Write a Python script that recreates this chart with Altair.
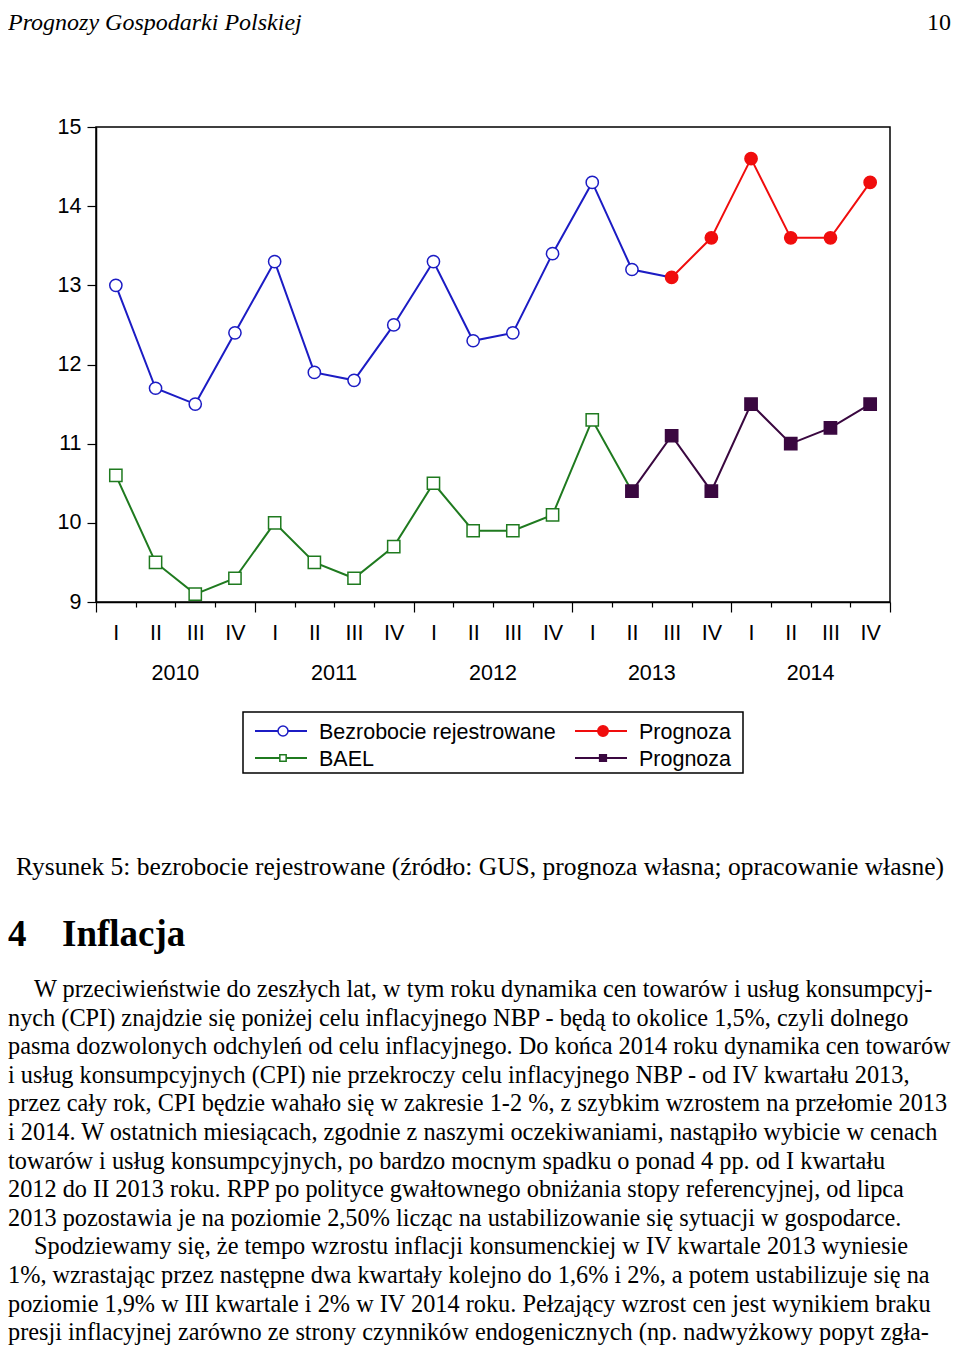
import json
import altair as alt
import pandas as pd

# ---------------- data ----------------
QUARTER_LABELS = ["I", "II", "III", "IV"]
YEARS = ["2010", "2011", "2012", "2013", "2014"]
Y_TICKS = [9, 10, 11, 12, 13, 14, 15]

BEZROBOCIE = [13.0, 11.7, 11.5, 12.4, 13.3, 11.9, 11.8, 12.5, 13.3, 12.3, 12.4, 13.4, 14.3, 13.2]
BEZROBOCIE_PROGNOZA = [13.1, 13.6, 14.6, 13.6, 13.6, 14.3]
BAEL = [10.6, 9.5, 9.1, 9.3, 10.0, 9.5, 9.3, 9.7, 10.5, 9.9, 9.9, 10.1, 11.3]
BAEL_PROGNOZA = [10.4, 11.1, 10.4, 11.5, 11.0, 11.2, 11.5]

SERIES = ["bez", "bez_prog", "bael", "bael_prog"]
LEGEND_LABELS = ["Bezrobocie rejestrowane", "Prognoza", "BAEL", "Prognoza"]
COLORS = ["#1c1cc4", "#f00d0d", "#1f7a1f", "#3a0840"]
FILLS = ["white", "#f00d0d", "white", "#3a0840"]
SHAPES = ["circle", "circle", "square", "square"]

HEADER = "Prognozy Gospodarki Polskiej"
PAGE_NO = "10"
CAPTION = "Rysunek 5: bezrobocie rejestrowane (źródło: GUS, prognoza własna; opracowanie własne)"
SECTION_NO = "4"
SECTION_TITLE = "Inflacja"
PARAGRAPH_1 = [
    "W przeciwieństwie do zeszłych lat, w tym roku dynamika cen towarów i usług konsumpcyj-",
    "nych (CPI) znajdzie się poniżej celu inflacyjnego NBP - będą to okolice 1,5%, czyli dolnego",
    "pasma dozwolonych odchyleń od celu inflacyjnego. Do końca 2014 roku dynamika cen towarów",
    "i usług konsumpcyjnych (CPI) nie przekroczy celu inflacyjnego NBP - od IV kwartału 2013,",
    "przez cały rok, CPI będzie wahało się w zakresie 1-2 %, z szybkim wzrostem na przełomie 2013",
    "i 2014. W ostatnich miesiącach, zgodnie z naszymi oczekiwaniami, nastąpiło wybicie w cenach",
    "towarów i usług konsumpcyjnych, po bardzo mocnym spadku o ponad 4 pp. od I kwartału",
    "2012 do II 2013 roku. RPP po polityce gwałtownego obniżania stopy referencyjnej, od lipca",
    "2013 pozostawia je na poziomie 2,50% licząc na ustabilizowanie się sytuacji w gospodarce.",
]
PARAGRAPH_2 = [
    "Spodziewamy się, że tempo wzrostu inflacji konsumenckiej w IV kwartale 2013 wyniesie",
    "1%, wzrastając przez następne dwa kwartały kolejno do 1,6% i 2%, a potem ustabilizuje się na",
    "poziomie 1,9% w III kwartale i 2% w IV 2014 roku. Pełzający wzrost cen jest wynikiem braku",
    "presji inflacyjnej zarówno ze strony czynników endogenicznych (np. nadwyżkowy popyt zgła-",
]


def rows(key, values, start):
    return [{"series": key, "q": start + i, "value": v} for i, v in enumerate(values)]


n_bez, n_bael = len(BEZROBOCIE), len(BAEL)
points_df = pd.DataFrame(
    rows("bez", BEZROBOCIE, 0) + rows("bez_prog", BEZROBOCIE_PROGNOZA, n_bez)
    + rows("bael", BAEL, 0) + rows("bael_prog", BAEL_PROGNOZA, n_bael)
)
lines_df = pd.DataFrame(
    rows("bez", BEZROBOCIE + BEZROBOCIE_PROGNOZA[:1], 0) + rows("bez_prog", BEZROBOCIE_PROGNOZA, n_bez)
    + rows("bael", BAEL + BAEL_PROGNOZA[:1], 0) + rows("bael_prog", BAEL_PROGNOZA, n_bael)
)
years_df = pd.DataFrame({"year": YEARS, "k": list(range(len(YEARS)))})
n_q = len(YEARS) * len(QUARTER_LABELS)

# ---------------- layout ----------------
W, H = 794, 475            # plot area
LEFT, TOP = 96, 127        # plot-area origin on the page
CANVAS_W, CANVAS_H = 944, 1340
PAD = {"left": LEFT - 8, "top": TOP - 8,
       "right": CANVAS_W - (LEFT - 8) - W, "bottom": CANVAS_H - (TOP - 8) - H}
SANS = "Liberation Sans"
SERIF = "Liberation Serif"
BODY = 24.3
CHART_FS = 21.5


def px(x):
    return x - LEFT


def py(y):
    return y - TOP


x_scale = alt.Scale(domain=[0, n_q], nice=False, zero=False)
y_scale = alt.Scale(domain=[min(Y_TICKS), max(Y_TICKS)], nice=False, zero=False)
color_scale = alt.Scale(domain=SERIES, range=COLORS)

year_start = "datum.value % 4 == 0"
x_axis = alt.Axis(
    values=list(range(n_q + 1)), title=None, grid=False,
    labelExpr="datum.value < %d ? %s[datum.value %% 4] : ''" % (n_q, json.dumps(QUARTER_LABELS)),
    labelOffset=W / (2 * n_q), labelFontSize=CHART_FS, labelFont=SANS, labelColor="black",
    labelFlush=False, labelOverlap=False, labelBound=False, labelAngle=0,
    labelPadding={"condition": {"test": year_start, "value": 10}, "value": 15},
    tickSize={"condition": {"test": year_start, "value": 10}, "value": 5},
    tickColor="black", tickWidth=1.2, domainColor="black", domainWidth=1.5,
)
y_axis = alt.Axis(
    values=Y_TICKS, title=None, grid=False, tickSize=9, labelPadding=6,
    labelFontSize=CHART_FS, labelFont=SANS, labelColor="black",
    tickColor="black", tickWidth=1.2, domainColor="black", domainWidth=1.5,
)

lines = alt.Chart(lines_df).transform_calculate(xq="datum.q + 0.5").mark_line(strokeWidth=2).encode(
    x=alt.X("xq:Q", scale=x_scale, axis=x_axis),
    y=alt.Y("value:Q", scale=y_scale, axis=y_axis),
    color=alt.Color("series:N", scale=color_scale, legend=None),
    detail="series:N",
)

pts = alt.Chart(points_df).transform_calculate(xq="datum.q + 0.5").mark_point(
    strokeWidth=1.5, opacity=1, filled=False
).encode(
    x=alt.X("xq:Q", scale=x_scale, axis=x_axis),
    y=alt.Y("value:Q", scale=y_scale, axis=y_axis),
    stroke=alt.Stroke("series:N", scale=color_scale, legend=None),
    fill=alt.Fill("series:N", scale=alt.Scale(domain=SERIES, range=FILLS), legend=None),
    shape=alt.Shape("series:N", scale=alt.Scale(domain=SERIES, range=SHAPES), legend=None),
    size=alt.Size("series:N", scale=alt.Scale(domain=SERIES, range=[150, 150, 60, 72]), legend=None),
)

years = alt.Chart(years_df).transform_calculate(xq="datum.k * 4 + 2").mark_text(
    fontSize=CHART_FS, font=SANS, color="black", baseline="alphabetic", align="center"
).encode(
    x=alt.X("xq:Q", scale=x_scale, axis=x_axis),
    y=alt.value(py(680)),
    text="year:N",
)

dummy = pd.DataFrame({"k": [0]})


def text_layer(txt, x, y, size, font=SERIF, align="left", style="normal", weight="normal"):
    return alt.Chart(dummy).mark_text(
        text=txt, align=align, baseline="alphabetic", fontSize=size, font=font,
        fontStyle=style, fontWeight=weight, color="black",
    ).encode(x=alt.value(px(x)), y=alt.value(py(y)))


layers = [lines, pts, years]

# legend box
layers.append(
    alt.Chart(dummy).mark_rect(fill="white", stroke="black", strokeWidth=1.5).encode(
        x=alt.value(px(243)), x2=alt.value(px(743)), y=alt.value(py(712)), y2=alt.value(py(773))
    )
)
leg_sizes = [100, 110, 40, 45]
for i, key in enumerate(SERIES):
    row, col = i // 2, i % 2
    dx = 320 * col
    yy = 731 + 27 * row
    layers.append(
        alt.Chart(dummy).mark_rule(color=COLORS[i], strokeWidth=2).encode(
            x=alt.value(px(255 + dx)), x2=alt.value(px(307 + dx)), y=alt.value(py(yy))
        )
    )
    layers.append(
        alt.Chart(dummy).mark_point(
            shape=SHAPES[i], size=leg_sizes[i], fill=FILLS[i], stroke=COLORS[i],
            strokeWidth=1.5, opacity=1, filled=False,
        ).encode(x=alt.value(px(283 + dx)), y=alt.value(py(yy)))
    )
    layers.append(text_layer(LEGEND_LABELS[i], 319 + dx, yy + 8, CHART_FS, font=SANS))

# page text
layers.append(text_layer(HEADER, 8, 30, 24, style="italic"))
layers.append(text_layer(PAGE_NO, 951, 30, 24, align="right"))
layers.append(text_layer(CAPTION, 480, 875, 25.5, align="center"))
layers.append(text_layer(SECTION_NO, 8, 946, 37, weight="bold"))
layers.append(text_layer(SECTION_TITLE, 62, 946, 37, weight="bold"))
LH = 28.6
for k, line in enumerate(PARAGRAPH_1 + PARAGRAPH_2):
    indent = 26 if k in (0, len(PARAGRAPH_1)) else 0
    layers.append(text_layer(line, 8 + indent, 997 + LH * k, BODY))

chart = alt.layer(*layers).properties(
    width=W, height=H, padding=PAD,
    autosize=alt.AutoSizeParams(type="none"),
    background="white",
).configure_view(stroke="black", strokeWidth=1.5)

chart.save("out.html", embed_options={"renderer": "svg", "actions": False})
